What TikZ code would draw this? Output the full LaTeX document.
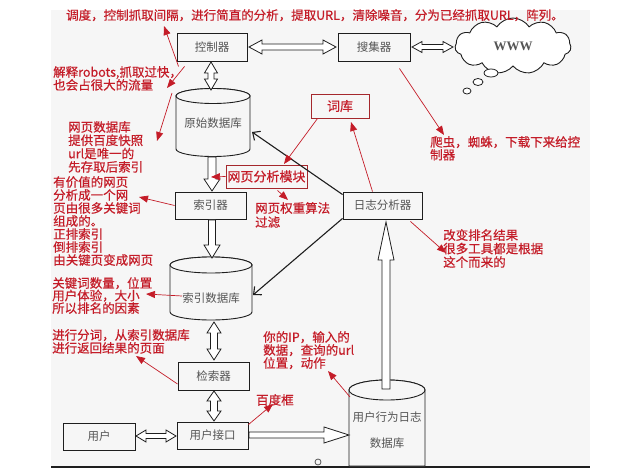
\documentclass[tikz,border=0pt]{standalone}
\usepackage{fontspec}
\newfontfamily\cjk{Noto Sans CJK SC}
\newfontfamily\cjkr{Noto Sans CJK SC}[FakeBold=0.5]
\newfontfamily\wfont{Liberation Serif}
\usetikzlibrary{arrows.meta,shapes.symbols}
\definecolor{rd}{RGB}{196,28,40}
\definecolor{rdbox}{RGB}{165,40,45}
\definecolor{bgc}{RGB}{246,246,246}
\definecolor{txg}{RGB}{85,85,85}
\definecolor{ln}{RGB}{30,30,30}
% hollow double arrow, horizontal: x1 x2 y L H S
\newcommand\myHD[6]{\draw[hollow] (#1,#3) -- ({#1+#4},{#3-#5}) -- ({#1+#4},{#3-#6}) -- ({#2-#4},{#3-#6}) -- ({#2-#4},{#3-#5}) -- (#2,#3) -- ({#2-#4},{#3+#5}) -- ({#2-#4},{#3+#6}) -- ({#1+#4},{#3+#6}) -- ({#1+#4},{#3+#5}) -- cycle;}
% hollow double arrow, vertical: y1 y2 x L H S
\newcommand\myVD[6]{\draw[hollow] (#3,#1) -- ({#3-#5},{#1+#4}) -- ({#3-#6},{#1+#4}) -- ({#3-#6},{#2-#4}) -- ({#3-#5},{#2-#4}) -- (#3,#2) -- ({#3+#5},{#2-#4}) -- ({#3+#6},{#2-#4}) -- ({#3+#6},{#1+#4}) -- ({#3+#5},{#1+#4}) -- cycle;}
% hollow single arrow, vertical, tip at y2: y1 y2 x L(signed) H S
\newcommand\myVS[6]{\draw[hollow] ({#3-#6},#1) -- ({#3-#6},{#2-(#4)}) -- ({#3-#5},{#2-(#4)}) -- (#3,#2) -- ({#3+#5},{#2-(#4)}) -- ({#3+#6},{#2-(#4)}) -- ({#3+#6},#1) -- cycle;}
% hollow single arrow, horizontal, tip at x2: x1 x2 y L H S
\newcommand\myHS[6]{\draw[hollow] (#1,{#3-#6}) -- ({#2-(#4)},{#3-#6}) -- ({#2-(#4)},{#3-#5}) -- (#2,#3) -- ({#2-(#4)},{#3+#5}) -- ({#2-(#4)},{#3+#6}) -- (#1,{#3+#6}) -- cycle;}
% cylinder: xl xr ytop ybot ry
\newcommand\myCyl[5]{%
\filldraw[cyl] (#1,#3) -- (#1,#4) arc[start angle=180,end angle=0,x radius={(#2-#1)/2},y radius=#5] -- (#2,#3) arc[start angle=0,end angle=-180,x radius={(#2-#1)/2},y radius=#5] -- cycle;
\draw[cyl] ({(#1+#2)/2},#3) ellipse[x radius={(#2-#1)/2},y radius=#5];}
\begin{document}
\begin{tikzpicture}[x=1pt,y=-1pt,
 box/.style={draw=ln,line width=0.9pt,fill=bgc,inner sep=0pt,font=\cjk\fontsize{11.5}{12}\selectfont,text=txg},
 rbox/.style={draw=rdbox,line width=0.9pt,fill=bgc,inner sep=0pt,font=\cjkr\fontsize{13}{13}\selectfont,text=rd},
 rtxt/.style={anchor=north west,inner sep=0pt,align=left,font=\cjkr\fontsize{12.5}{13}\selectfont,text=rd},
 gtxt/.style={inner sep=0pt,font=\cjk\fontsize{11.5}{12}\selectfont,text=txg},
 rarr/.style={draw=rd,line width=0.7pt,-{Triangle[length=9pt,width=7pt]}},
 karr/.style={draw=ln,line width=1.1pt,-{Straight Barb[length=6pt,width=11pt]}},
 hollow/.style={draw=ln,line width=0.8pt,fill=white,line join=miter},
 cyl/.style={draw=ln,line width=0.9pt,fill=bgc}]
\useasboundingbox (0,0) rectangle (619,468);
\fill[bgc] (51,10) rectangle (590,466);
\draw[ln,line width=2pt] (51,467) -- (590,467);

% cylinders
\myCyl{176}{250}{96}{149}{7.5}
\node[gtxt] (raw) at (213,123) {原始数据库};
\myCyl{170}{252}{265}{312}{8}
\node[gtxt] (idxdb) at (211,298) {索引数据库};
\filldraw[cyl] (349,390) -- (349,466) -- (425,466) -- (425,390) arc[start angle=0,end angle=-180,x radius=38,y radius=10] -- cycle;
\draw[cyl] (387,390) ellipse[x radius=38,y radius=10];
\node[gtxt] (ulog) at (387,417) {用户行为日志};
\node[gtxt] (ulog2) at (387,443) {数据库};

% boxes
\node[box,minimum width=70pt,minimum height=28pt] (ctrl) at (212,47) {控制器};
\node[box,minimum width=72pt,minimum height=28pt] (coll) at (374,47) {搜集器};
\node[box,minimum width=71pt,minimum height=27pt] (idx) at (210.5,205.5) {索引器};
\node[box,minimum width=71pt,minimum height=28pt] (srch) at (213.5,376) {检索器};
\node[box,minimum width=71pt,minimum height=27pt] (ui) at (212.5,435.5) {用户接口};
\node[box,minimum width=72pt,minimum height=27pt] (user) at (99,436.5) {用户};
\node[box,minimum width=79pt,minimum height=27pt] (log) at (382.5,205.5) {日志分析器};
\node[rbox,minimum width=58pt,minimum height=24pt] (ciku) at (340,106) {词库};
\node[rbox,minimum width=81pt,minimum height=23pt] (wfx) at (266.5,176.5) {网页分析模块};

% cloud
\node[cloud,draw=ln,line width=0.9pt,fill=white,cloud puffs=11,cloud puff arc=115,aspect=2.1,minimum width=116pt,minimum height=56pt,inner sep=0pt,font=\wfont\bfseries\fontsize{13}{13}\selectfont,text=txg] (www) at (513,46) {WWW};
\draw[ln,line width=0.8pt,fill=white] (491,73) ellipse[x radius=7,y radius=4];
\draw[ln,line width=0.8pt,fill=white] (478,82) ellipse[x radius=5,y radius=3.5];
\draw[ln,line width=0.8pt,fill=white] (467,91) ellipse[x radius=4,y radius=3];
\draw[txg,line width=0.8pt] (318,462) circle[radius=3];

% hollow arrows
\myHD{249}{336}{47}{13}{7}{3}
\myHD{412}{453}{47}{10}{5.5}{2.5}
\myVD{62}{90}{211}{11}{6.5}{3}
\myVS{157}{191}{212}{12}{8}{4}
\myVS{220}{258}{212}{13}{8}{3.5}
\myVD{322}{360}{214}{11}{7}{3.5}
\myVD{391}{421}{214}{10}{7}{3.5}
\myHD{136}{176}{436}{10}{6}{2.5}
\myHS{249}{349}{435}{25}{8}{3}
\myVS{389}{222}{386}{-38}{8}{4}

% black connectors
\coordinate (rawR) at (252,132);
\coordinate (idxdbR) at (253,295);
\draw[karr] ([yshift=-3pt]log.north west) -- (rawR);
\draw[karr] ([yshift=1pt]log.south west) -- (idxdbR);

% red texts
\node[rtxt] (t1) at (66,9) {调度，控制抓取间隔，进行简直的分析，提取URL，清除噪音，分为已经抓取URL，阵列。};
\node[rtxt] (t2) at (53,66) {解释robots,抓取过快，\\也会占很大的流量};
\node[rtxt,font=\cjkr\fontsize{12.5}{13.3}\selectfont] (t3) at (68,121) {网页数据库\\提供百度快照\\url是唯一的\\先存取后索引};
\node[rtxt] (t4) at (53,176) {有价值的网页\\分析成一个网\\页由很多关键词\\组成的。\\正排索引\\倒排索引\\由关键页变成网页};
\node[rtxt,font=\cjkr\fontsize{12.5}{12.5}\selectfont] (t5) at (52,277) {关键词数量，位置\\用户体验，大小\\所以排名的因素};
\node[rtxt] (t6) at (52,329) {进行分词，从索引数据库\\进行返回结果的页面};
\node[rtxt] (t7) at (263,331) {你的IP，输入的\\数据，查询的url\\位置，动作};
\node[rtxt] (t8) at (256,394) {百度框};
\node[rtxt,font=\cjkr\fontsize{12.5}{14}\selectfont] (t9) at (255,202) {网页权重算法\\过滤};
\node[rtxt,font=\cjkr\fontsize{12.5}{11.5}\selectfont] (t10) at (430,136) {爬虫，蜘蛛，下载下来给控\\制器};
\node[rtxt,font=\cjkr\fontsize{12.5}{13.5}\selectfont] (t11) at (443,229) {改变排名结果\\很多工具都是根据\\这个而来的};

% red arrows
\coordinate (aA) at (164,26);
\coordinate (aB) at (167,88);
\coordinate (aC) at (157,141);
\coordinate (aD) at (211,177);
\coordinate (aE) at (284,164);
\coordinate (aF) at (351,122);
\coordinate (aG) at (288,200);
\coordinate (aH) at (444,135);
\coordinate (aI) at (446,253);
\coordinate (aJ) at (139,197);
\coordinate (aK) at (146,294);
\coordinate (aL) at (136,356);
\coordinate (aM) at (328,371);
\coordinate (aN) at (273,404);
\coordinate (cC) at (172,93);
\coordinate (cM) at (350,397);
\draw[rarr] ([xshift=2pt,yshift=-5pt]ctrl.south west) -- (aA);
\draw[rarr] ([xshift=8pt,yshift=-5pt]ctrl.south west) -- (aB);
\draw[rarr] (cC) -- (aC);
\draw[rarr] (wfx.west) -- (aD);
\draw[rarr] ([xshift=7pt]ciku.south west) -- (aE);
\draw[rarr] ([xshift=-10pt]log.north) -- (aF);
\draw[rarr] ([xshift=11pt,yshift=-2pt]wfx.south) -- (aG);
\draw[rarr] ([xshift=-11pt,yshift=-7pt]coll.south east) -- (aH);
\draw[rarr] ([xshift=-12pt,yshift=-2pt]log.south east) -- (aI);
\draw[rarr] (idx.west) -- (aJ);
\draw[rarr] ([yshift=2pt]idxdb.west) -- (aK);
\draw[rarr] ([yshift=-8pt]srch.west) -- (aL);
\draw[rarr] (cM) -- (aM);
\draw[rarr] ([yshift=-3pt]ui.north east) -- (aN);
\end{tikzpicture}
\end{document}
